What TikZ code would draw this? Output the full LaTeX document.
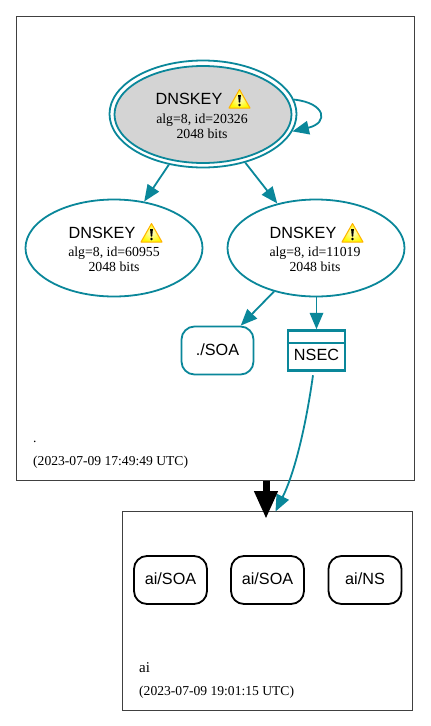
\documentclass[tikz,border=0pt]{standalone}
\usepackage{fontspec}
\setmainfont{Liberation Serif}
\newfontfamily\arialfont{Liberation Sans}
\usetikzlibrary{arrows.meta,shapes.geometric}
\definecolor{teal}{HTML}{0A879A}
\tikzset{
  x=1pt,y=-1pt,
  keyshape/.style={ellipse,draw=teal,line width=1.8pt,inner sep=0pt,minimum width=177pt,minimum height=97pt},
  titletext/.style={font=\arialfont\fontsize{16.2}{18}\selectfont,inner sep=0pt,anchor=base},
  smalltext/.style={font=\fontsize{13.8}{15}\selectfont,inner sep=0pt,anchor=base},
  datetext/.style={font=\fontsize{13.6}{15}\selectfont,inner sep=0pt,anchor=base west},
  zonebox/.style={rectangle,draw=black!75,line width=0.7pt,inner sep=0pt},
  rrteal/.style={rectangle,rounded corners=13pt,draw=teal,line width=1.8pt,inner sep=0pt,minimum width=72pt,minimum height=48pt},
  rrblack/.style={rectangle,rounded corners=13pt,draw=black,line width=1.8pt,inner sep=0pt,minimum width=73pt,minimum height=48pt},
  tealarrow/.style={draw=teal,line width=1.8pt,-{Triangle[length=16.5pt,width=13.5pt,fill=teal]}},
  warnicon/.pic={
    \shade[inner color=yellow!20!white,outer color=yellow!95!orange,line join=round,draw=orange!60!yellow,line width=1pt] (0,-9.5) -- (10.5,9) -- (-10.5,9) -- cycle;
    \fill[black] (-1.4,-4) -- (1.4,-4) -- (0.7,3.5) -- (-0.7,3.5) -- cycle;
    \fill[black] (0,6) circle (1.3);
  }
}
\begin{document}
\begin{tikzpicture}
\useasboundingbox[fill=white] (0,0) rectangle (431,726);
% zone boxes
\node[zonebox,minimum width=398pt,minimum height=464pt] (rootzone) at (215,248) {};
\node[zonebox,minimum width=290pt,minimum height=199pt] (aizone) at (267,610.5) {};
% top key
\node[keyshape,minimum width=187pt,minimum height=107pt] (k1outer) at (203,114) {};
\node[keyshape,fill=black!17] (k1) at (203,114.5) {};
\node[titletext] (k1t) at (189,104) {DNSKEY};
\pic at (239.5,99) {warnicon};
\node[smalltext] (k1a) at (202,123) {alg=8, id=20326};
\node[smalltext] (k1b) at (202,138) {2048 bits};
% left key
\node[keyshape] (k2) at (114,248) {};
\node[titletext] (k2t) at (102,238) {DNSKEY};
\pic at (151.5,233) {warnicon};
\node[smalltext] (k2a) at (114,256) {alg=8, id=60955};
\node[smalltext] (k2b) at (114,271) {2048 bits};
% right key
\node[keyshape] (k3) at (316,248) {};
\node[titletext] (k3t) at (303,238) {DNSKEY};
\pic at (352.5,233) {warnicon};
\node[smalltext] (k3a) at (315,256) {alg=8, id=11019};
\node[smalltext] (k3b) at (315,271) {2048 bits};
% SOA and NSEC
\node[rrteal] (soa) at (217.5,350.5) {};
\node[titletext] (soat) at (217.5,355) {./SOA};
\node[rectangle,draw=teal,line width=2.5pt,inner sep=0pt,minimum width=57pt,minimum height=40pt] (nsec) at (316.5,350.5) {};
\coordinate (nsecl) at (nsec.west |- 0,343);
\coordinate (nsecr) at (nsec.east |- 0,343);
\draw[teal,line width=2.5pt] (nsecl) -- (nsecr);
\node[titletext] (nsect) at (316.5,360) {NSEC};
% ai records
\node[rrblack] (a1) at (170.5,580) {};
\node[titletext] (a1t) at (170.5,584.5) {ai/SOA};
\node[rrblack] (a2) at (267.5,580) {};
\node[titletext] (a2t) at (267.5,584.5) {ai/SOA};
\node[rrblack] (a3) at (365,580) {};
\node[titletext] (a3t) at (365,584.5) {ai/NS};
% labels
\node[datetext] (rootname) at (33,442) {.};
\node[datetext] (rootdate) at (33,465) {(2023-07-09 17:49:49 UTC)};
\node[datetext,font=\fontsize{15}{16}\selectfont] (ainame) at (139,672) {ai};
\node[datetext] (aidate) at (139,695) {(2023-07-09 19:01:15 UTC)};
% connectors
\draw[tealarrow] (k1outer.236) -- (k2.57);
\draw[tealarrow] (k1outer.311) -- (k3.131);
\draw[tealarrow] (k3.226) -- (soa.47.5);
\draw[tealarrow] (k3.south -| nsec.north) -- (nsec.north);
\draw[tealarrow] (k1outer.9) .. controls (326,103) and (329,123) .. (k1outer.-11);
\coordinate (aitip) at (275.5,511.5);
\draw[tealarrow] (nsec.south) ++(-3.5,3.5) .. controls (306,425) and (295,472) .. (aitip);
\coordinate (blackfrom) at (266,481);
\coordinate (blackto) at (266,519);
\draw[black,line width=7pt,-{Triangle[length=28pt,width=22pt,fill=black]}] (blackfrom) -- (blackto);
\end{tikzpicture}
\end{document}
